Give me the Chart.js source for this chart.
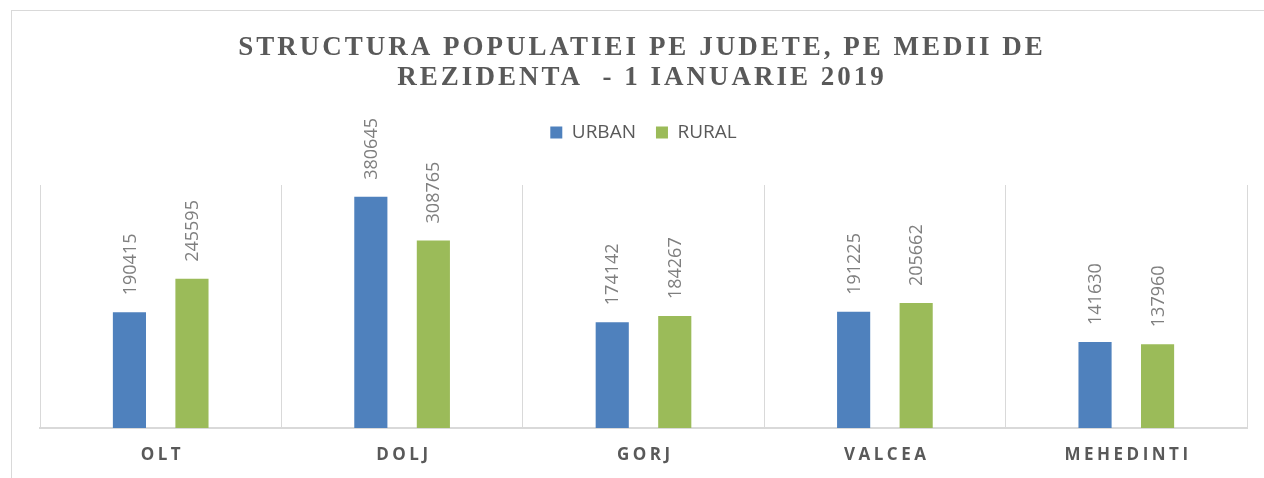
<!DOCTYPE html>
<html>
<head>
<meta charset="utf-8">
<script src="https://cdn.jsdelivr.net/npm/chart.js@4.4.1/dist/chart.umd.min.js"></script>
<style>
  html, body { margin: 0; padding: 0; background: #fff; overflow: hidden; }
  #wrap { position: relative; width: 1264px; height: 478px; }
  #frame { position: absolute; left: 11px; top: 10px; width: 1270px; height: 490px;
    border: 1px solid #d9d9d9; box-sizing: border-box; pointer-events: none; }
  canvas { position: absolute; left: 0; top: 0; }
</style>
</head>
<body>
<div id="wrap">
  <div id="frame"></div>
  <canvas id="chart" width="1264" height="478"></canvas>
</div>
<script>
"use strict";

const TEXT = "#595959";
const LABEL = "#7f7f7f";
const GRID = "#d9d9d9";

const TITLE_LINES = [
  "STRUCTURA POPULATIEI PE JUDETE, PE MEDII DE",
  "REZIDENTA  - 1 IANUARIE 2019",
];
const CATEGORIES = ["OLT", "DOLJ", "GORJ", "VALCEA", "MEHEDINTI"];
const URBAN = [190415, 380645, 174142, 191225, 141630];
const RURAL = [245595, 308765, 184267, 205662, 137960];

// extra room between the legend and the plot area
const legendGap = {
  id: "legendGap",
  beforeUpdate(chart) {
    const lg = chart.legend;
    if (!lg || lg._gapPatched) return;
    const fit = lg.fit;
    lg.fit = function () { fit.call(this); this.height += 33; };
    lg._gapPatched = true;
  },
};

// title + spaced category names (canvas letterSpacing, not supported by Chart.js fonts)
const spacedText = {
  id: "spacedText",
  afterDraw(chart) {
    const ctx = chart.ctx;
    ctx.save();
    ctx.fillStyle = TEXT;
    ctx.textAlign = "center";
    ctx.textBaseline = "alphabetic";
    ctx.font = "bold 27px 'Liberation Serif', 'Times New Roman', serif";
    ctx.letterSpacing = "3px";
    TITLE_LINES.forEach((line, i) => ctx.fillText(line, 642, 55 + i * 30));

    ctx.font = "bold 17px 'Open Sans', sans-serif";
    ctx.letterSpacing = "3.5px";
    ctx.textBaseline = "middle";
    const xs = chart.scales.x;
    CATEGORIES.forEach((c, i) => ctx.fillText(c, xs.getPixelForValue(i) + 1.75, 455));
    ctx.restore();
  },
};

// vertical value labels above each bar
const barLabels = {
  id: "barLabels",
  afterDatasetsDraw(chart) {
    const ctx = chart.ctx;
    ctx.save();
    ctx.fillStyle = LABEL;
    ctx.font = "18px 'Open Sans', sans-serif";
    ctx.textAlign = "left";
    ctx.textBaseline = "middle";
    chart.data.datasets.forEach((ds, di) => {
      chart.getDatasetMeta(di).data.forEach((bar, i) => {
        ctx.save();
        ctx.translate(bar.x + 1, bar.y - 17);
        ctx.rotate(-Math.PI / 2);
        ctx.fillText(String(ds.data[i]), 0, 0);
        ctx.restore();
      });
    });
    ctx.restore();
  },
};

new Chart(document.getElementById("chart"), {
  type: "bar",
  data: {
    labels: CATEGORIES,
    datasets: [
      { label: "URBAN", data: URBAN, backgroundColor: "#4f81bd" },
      { label: "RURAL", data: RURAL, backgroundColor: "#9bbb59" },
    ],
  },
  options: {
    responsive: false,
    animation: false,
    events: [],
    datasets: { bar: { categoryPercentage: 0.518, barPercentage: 0.53 } },
    layout: { padding: { left: 40, right: 17, top: 103, bottom: 50 } },
    plugins: {
      title: { display: false },
      tooltip: { enabled: false },
      legend: {
        position: "top",
        labels: {
          color: TEXT, boxWidth: 12, boxHeight: 12, padding: 20,
          font: { family: "'Open Sans', sans-serif", size: 19 },
        },
      },
    },
    scales: {
      x: {
        grid: { display: true, color: GRID, lineWidth: 1, drawTicks: false, offset: true },
        border: { display: true, color: GRID, width: 2 },
        ticks: { display: false },
      },
      y: { display: false, min: 0, max: 400000 },
    },
  },
  plugins: [legendGap, spacedText, barLabels],
});
</script>
</body>
</html>
